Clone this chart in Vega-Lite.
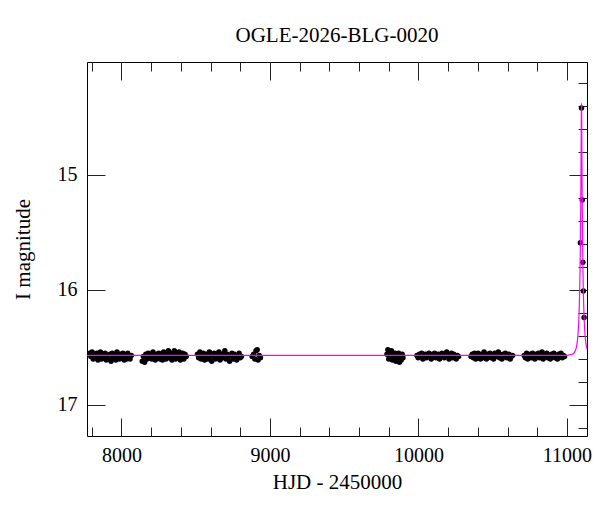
{
  "$schema": "https://vega.github.io/schema/vega-lite/v6.json",
  "width": 500,
  "height": 374,
  "autosize": {"type": "none"},
  "padding": {"left": 87, "top": 62, "right": 13, "bottom": 76},
  "background": "white",
  "config": {
    "view": {"stroke": "black", "strokeWidth": 1},
    "axis": {"grid": false, "domain": false, "tickColor": "#222", "tickWidth": 1, "labelColor": "black", "titleColor": "black", "labelFont": "Liberation Serif", "titleFont": "Liberation Serif", "titleFontWeight": "normal"}
  },
  "title": {"text": "OGLE-2026-BLG-0020", "font": "Liberation Serif", "fontSize": 21, "fontWeight": "normal", "color": "black", "anchor": "middle", "baseline": "alphabetic", "offset": -1},
  "datasets": {
    "pts": [
      {"hjd":7786,"imag":16.55},{"hjd":7794,"imag":16.58},{"hjd":7802,"imag":16.54},{"hjd":7810,"imag":16.60},{"hjd":7818,"imag":16.56},{"hjd":7826,"imag":16.59},{"hjd":7834,"imag":16.55},{"hjd":7842,"imag":16.61},{"hjd":7850,"imag":16.57},{"hjd":7858,"imag":16.54},{"hjd":7866,"imag":16.60},{"hjd":7874,"imag":16.56},{"hjd":7882,"imag":16.59},{"hjd":7890,"imag":16.55},{"hjd":7898,"imag":16.61},{"hjd":7906,"imag":16.57},{"hjd":7914,"imag":16.60},{"hjd":7922,"imag":16.56},{"hjd":7930,"imag":16.62},{"hjd":7938,"imag":16.55},{"hjd":7946,"imag":16.59},{"hjd":7954,"imag":16.57},{"hjd":7962,"imag":16.61},{"hjd":7970,"imag":16.54},{"hjd":7978,"imag":16.58},{"hjd":7986,"imag":16.60},{"hjd":7994,"imag":16.56},{"hjd":8002,"imag":16.59},{"hjd":8010,"imag":16.55},{"hjd":8018,"imag":16.61},{"hjd":8026,"imag":16.57},{"hjd":8034,"imag":16.60},{"hjd":8042,"imag":16.55},{"hjd":8050,"imag":16.58},{"hjd":8058,"imag":16.60},{"hjd":8066,"imag":16.57},
      {"hjd":8140,"imag":16.62},{"hjd":8148,"imag":16.58},{"hjd":8156,"imag":16.63},{"hjd":8164,"imag":16.56},{"hjd":8172,"imag":16.60},{"hjd":8180,"imag":16.55},{"hjd":8188,"imag":16.59},{"hjd":8196,"imag":16.57},{"hjd":8204,"imag":16.60},{"hjd":8212,"imag":16.54},{"hjd":8220,"imag":16.58},{"hjd":8228,"imag":16.61},{"hjd":8236,"imag":16.56},{"hjd":8244,"imag":16.59},{"hjd":8252,"imag":16.55},{"hjd":8260,"imag":16.60},{"hjd":8268,"imag":16.57},{"hjd":8276,"imag":16.61},{"hjd":8284,"imag":16.54},{"hjd":8292,"imag":16.58},{"hjd":8300,"imag":16.60},{"hjd":8308,"imag":16.56},{"hjd":8316,"imag":16.53},{"hjd":8324,"imag":16.59},{"hjd":8332,"imag":16.55},{"hjd":8340,"imag":16.61},{"hjd":8348,"imag":16.57},{"hjd":8356,"imag":16.53},{"hjd":8364,"imag":16.60},{"hjd":8372,"imag":16.56},{"hjd":8380,"imag":16.58},{"hjd":8388,"imag":16.54},{"hjd":8396,"imag":16.61},{"hjd":8404,"imag":16.57},{"hjd":8412,"imag":16.55},{"hjd":8420,"imag":16.60},{"hjd":8428,"imag":16.56},{"hjd":8436,"imag":16.58},
      {"hjd":8512,"imag":16.56},{"hjd":8520,"imag":16.59},{"hjd":8528,"imag":16.54},{"hjd":8536,"imag":16.60},{"hjd":8544,"imag":16.57},{"hjd":8552,"imag":16.55},{"hjd":8560,"imag":16.61},{"hjd":8568,"imag":16.58},{"hjd":8576,"imag":16.56},{"hjd":8584,"imag":16.60},{"hjd":8592,"imag":16.54},{"hjd":8600,"imag":16.58},{"hjd":8608,"imag":16.62},{"hjd":8616,"imag":16.57},{"hjd":8624,"imag":16.55},{"hjd":8632,"imag":16.60},{"hjd":8640,"imag":16.56},{"hjd":8648,"imag":16.59},{"hjd":8656,"imag":16.54},{"hjd":8664,"imag":16.61},{"hjd":8672,"imag":16.57},{"hjd":8680,"imag":16.59},{"hjd":8688,"imag":16.55},{"hjd":8696,"imag":16.53},{"hjd":8704,"imag":16.60},{"hjd":8712,"imag":16.56},{"hjd":8720,"imag":16.58},{"hjd":8728,"imag":16.62},{"hjd":8736,"imag":16.57},{"hjd":8744,"imag":16.55},{"hjd":8752,"imag":16.60},{"hjd":8760,"imag":16.56},{"hjd":8768,"imag":16.59},{"hjd":8776,"imag":16.61},{"hjd":8784,"imag":16.57},{"hjd":8792,"imag":16.55},{"hjd":8800,"imag":16.59},{"hjd":8808,"imag":16.58},
      {"hjd":8880,"imag":16.58},{"hjd":8890,"imag":16.56},{"hjd":8898,"imag":16.60},{"hjd":8906,"imag":16.53},{"hjd":8914,"imag":16.52},{"hjd":8920,"imag":16.61},{"hjd":8928,"imag":16.57},{"hjd":8936,"imag":16.59},
      {"hjd":9788,"imag":16.56},{"hjd":9794,"imag":16.52},{"hjd":9800,"imag":16.60},{"hjd":9806,"imag":16.54},{"hjd":9812,"imag":16.58},{"hjd":9818,"imag":16.53},{"hjd":9824,"imag":16.61},{"hjd":9830,"imag":16.56},{"hjd":9836,"imag":16.59},{"hjd":9842,"imag":16.55},{"hjd":9848,"imag":16.62},{"hjd":9854,"imag":16.57},{"hjd":9860,"imag":16.60},{"hjd":9866,"imag":16.55},{"hjd":9872,"imag":16.63},{"hjd":9878,"imag":16.58},{"hjd":9884,"imag":16.61},{"hjd":9890,"imag":16.56},{"hjd":9896,"imag":16.59},
      {"hjd":9990,"imag":16.57},{"hjd":9998,"imag":16.59},{"hjd":10006,"imag":16.56},{"hjd":10014,"imag":16.58},{"hjd":10022,"imag":16.55},{"hjd":10030,"imag":16.60},{"hjd":10038,"imag":16.57},{"hjd":10046,"imag":16.56},{"hjd":10054,"imag":16.59},{"hjd":10062,"imag":16.57},{"hjd":10070,"imag":16.55},{"hjd":10078,"imag":16.58},{"hjd":10086,"imag":16.60},{"hjd":10094,"imag":16.56},{"hjd":10102,"imag":16.58},{"hjd":10110,"imag":16.55},{"hjd":10118,"imag":16.59},{"hjd":10126,"imag":16.57},{"hjd":10134,"imag":16.56},{"hjd":10142,"imag":16.60},{"hjd":10150,"imag":16.58},{"hjd":10158,"imag":16.55},{"hjd":10166,"imag":16.57},{"hjd":10174,"imag":16.59},{"hjd":10182,"imag":16.56},{"hjd":10190,"imag":16.54},{"hjd":10198,"imag":16.58},{"hjd":10206,"imag":16.60},{"hjd":10214,"imag":16.57},{"hjd":10222,"imag":16.55},{"hjd":10230,"imag":16.59},{"hjd":10238,"imag":16.56},{"hjd":10246,"imag":16.58},{"hjd":10254,"imag":16.60},{"hjd":10262,"imag":16.57},{"hjd":10270,"imag":16.58},
      {"hjd":10354,"imag":16.58},{"hjd":10362,"imag":16.56},{"hjd":10370,"imag":16.59},{"hjd":10378,"imag":16.55},{"hjd":10386,"imag":16.60},{"hjd":10394,"imag":16.57},{"hjd":10402,"imag":16.55},{"hjd":10410,"imag":16.58},{"hjd":10418,"imag":16.60},{"hjd":10426,"imag":16.56},{"hjd":10434,"imag":16.59},{"hjd":10442,"imag":16.54},{"hjd":10450,"imag":16.57},{"hjd":10458,"imag":16.60},{"hjd":10466,"imag":16.56},{"hjd":10474,"imag":16.58},{"hjd":10482,"imag":16.55},{"hjd":10490,"imag":16.59},{"hjd":10498,"imag":16.57},{"hjd":10506,"imag":16.60},{"hjd":10514,"imag":16.55},{"hjd":10522,"imag":16.58},{"hjd":10530,"imag":16.56},{"hjd":10538,"imag":16.54},{"hjd":10546,"imag":16.59},{"hjd":10554,"imag":16.57},{"hjd":10562,"imag":16.60},{"hjd":10570,"imag":16.56},{"hjd":10578,"imag":16.58},{"hjd":10586,"imag":16.55},{"hjd":10594,"imag":16.59},{"hjd":10602,"imag":16.57},{"hjd":10610,"imag":16.56},{"hjd":10618,"imag":16.60},{"hjd":10626,"imag":16.58},{"hjd":10634,"imag":16.57},
      {"hjd":10712,"imag":16.57},{"hjd":10720,"imag":16.59},{"hjd":10728,"imag":16.55},{"hjd":10736,"imag":16.60},{"hjd":10744,"imag":16.57},{"hjd":10752,"imag":16.56},{"hjd":10760,"imag":16.59},{"hjd":10768,"imag":16.55},{"hjd":10776,"imag":16.58},{"hjd":10784,"imag":16.60},{"hjd":10792,"imag":16.56},{"hjd":10800,"imag":16.58},{"hjd":10808,"imag":16.55},{"hjd":10816,"imag":16.59},{"hjd":10824,"imag":16.57},{"hjd":10832,"imag":16.54},{"hjd":10840,"imag":16.60},{"hjd":10848,"imag":16.56},{"hjd":10856,"imag":16.58},{"hjd":10864,"imag":16.55},{"hjd":10872,"imag":16.59},{"hjd":10880,"imag":16.57},{"hjd":10888,"imag":16.60},{"hjd":10896,"imag":16.56},{"hjd":10904,"imag":16.58},{"hjd":10912,"imag":16.55},{"hjd":10920,"imag":16.59},{"hjd":10928,"imag":16.57},{"hjd":10936,"imag":16.60},{"hjd":10944,"imag":16.56},{"hjd":10952,"imag":16.58},{"hjd":10960,"imag":16.55},{"hjd":10968,"imag":16.59},{"hjd":10976,"imag":16.57},{"hjd":10984,"imag":16.58},
      {"hjd":11098,"imag":14.42},{"hjd":11090.5,"imag":15.59},{"hjd":11103,"imag":15.22},{"hjd":11107,"imag":15.76},{"hjd":11110.5,"imag":16.01},{"hjd":11115.5,"imag":16.24}
    ],
    "model": [
      {"hjd":7700,"imag":16.57},{"hjd":9000,"imag":16.57},{"hjd":10900,"imag":16.57},{"hjd":10998,"imag":16.5697},{"hjd":11008,"imag":16.567},{"hjd":11033,"imag":16.560},{"hjd":11048,"imag":16.547},{"hjd":11058,"imag":16.523},{"hjd":11065,"imag":16.489},{"hjd":11071,"imag":16.435},{"hjd":11076,"imag":16.357},{"hjd":11080,"imag":16.256},{"hjd":11083,"imag":16.144},{"hjd":11086,"imag":15.985},{"hjd":11088,"imag":15.841},{"hjd":11090,"imag":15.654},{"hjd":11092,"imag":15.408},{"hjd":11093,"imag":15.255},{"hjd":11094,"imag":15.078},{"hjd":11095,"imag":14.877},{"hjd":11095.5,"imag":14.769},{"hjd":11096,"imag":14.660},{"hjd":11096.5,"imag":14.555},{"hjd":11097,"imag":14.466},{"hjd":11097.5,"imag":14.403},{"hjd":11098,"imag":14.381},{"hjd":11098.5,"imag":14.403},{"hjd":11099,"imag":14.466},{"hjd":11099.5,"imag":14.555},{"hjd":11100,"imag":14.660},{"hjd":11100.5,"imag":14.769},{"hjd":11101,"imag":14.877},{"hjd":11102,"imag":15.078},{"hjd":11103,"imag":15.255},{"hjd":11104,"imag":15.408},{"hjd":11106,"imag":15.654},{"hjd":11108,"imag":15.841},{"hjd":11110,"imag":15.985},{"hjd":11113,"imag":16.144},{"hjd":11116,"imag":16.256},{"hjd":11120,"imag":16.357},{"hjd":11125,"imag":16.435},{"hjd":11131,"imag":16.489},{"hjd":11138,"imag":16.523},{"hjd":11148,"imag":16.547}
    ]
  },
  "layer": [
    {
      "data": {"name": "pts"},
      "mark": {"type": "circle", "size": 30, "color": "black", "opacity": 1, "clip": true},
      "encoding": {
        "x": {"field": "hjd", "type": "quantitative",
          "scale": {"domain": [7768, 11135], "nice": false, "zero": false},
          "axis": {"orient": "bottom", "tickCount": 17,
            "format": "d",
            "tickSize": {"condition": {"test": "abs(datum.value / 1000 - round(datum.value / 1000)) < 0.001", "value": -18}, "value": -9},
            "labelExpr": "abs(datum.value / 1000 - round(datum.value / 1000)) < 0.001 ? datum.label : ''",
            "labelPadding": 27, "labelFlush": false, "labelOverlap": false, "labelFontSize": 20,
            "title": "HJD - 2450000", "titleFontSize": 21, "titlePadding": -3}},
        "y": {"field": "imag", "type": "quantitative",
          "scale": {"domain": [14.02, 17.27], "reverse": true, "nice": false, "zero": false},
          "axis": {"orient": "left", "tickCount": 16,
            "format": "d",
            "tickSize": {"condition": {"test": "abs(datum.value - round(datum.value)) < 0.001", "value": -18}, "value": -9},
            "labelExpr": "abs(datum.value - round(datum.value)) < 0.001 ? datum.label : ''",
            "labelPadding": 28, "labelFlush": false, "labelOverlap": false, "labelFontSize": 20,
            "title": "I magnitude", "titleFontSize": 21, "titlePadding": 24}}
      }
    },
    {
      "data": {"name": "model"},
      "mark": {"type": "line", "color": "#ff00ff", "strokeWidth": 1.2, "clip": true, "interpolate": "monotone"},
      "encoding": {
        "x": {"field": "hjd", "type": "quantitative",
          "scale": {"domain": [7768, 11135], "nice": false, "zero": false},
          "axis": {"orient": "top", "tickCount": 17,
            "labels": false, "title": null,
            "tickSize": {"condition": {"test": "abs(datum.value / 1000 - round(datum.value / 1000)) < 0.001", "value": -18}, "value": -9}}},
        "y": {"field": "imag", "type": "quantitative",
          "scale": {"domain": [14.02, 17.27], "reverse": true, "nice": false, "zero": false},
          "axis": {"orient": "right", "tickCount": 16,
            "labels": false, "title": null,
            "tickSize": {"condition": {"test": "abs(datum.value - round(datum.value)) < 0.001", "value": -18}, "value": -9}}}
      }
    }
  ],
  "resolve": {"axis": {"x": "independent", "y": "independent"}}
}
